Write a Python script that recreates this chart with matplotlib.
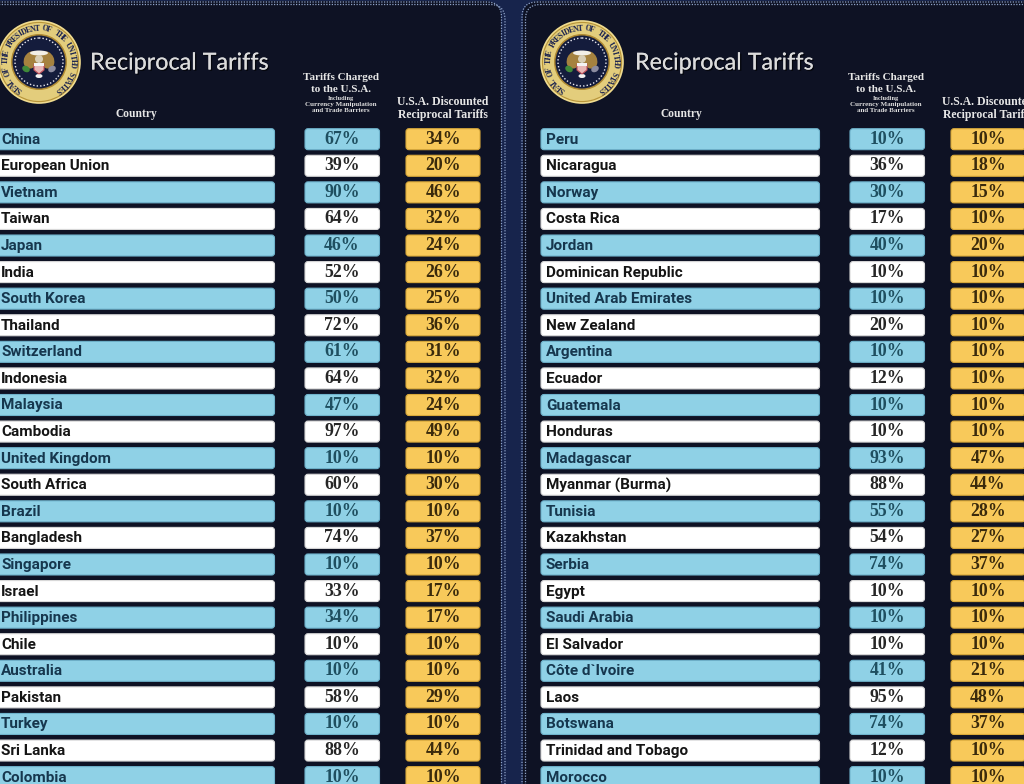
import numpy as np
import matplotlib
matplotlib.use("Agg")
import matplotlib.pyplot as plt
from matplotlib.patches import FancyBboxPatch, Circle, Ellipse, Polygon, Rectangle
import matplotlib.patheffects as pe
from matplotlib import font_manager as fm

# ---------------- data ----------------
countries_left = ["China", "European Union", "Vietnam", "Taiwan", "Japan", "India",
                  "South Korea", "Thailand", "Switzerland", "Indonesia", "Malaysia",
                  "Cambodia", "United Kingdom", "South Africa", "Brazil", "Bangladesh",
                  "Singapore", "Israel", "Philippines", "Chile", "Australia", "Pakistan",
                  "Turkey", "Sri Lanka", "Colombia"]
tariffs_left = [67, 39, 90, 64, 46, 52, 50, 72, 61, 64, 47, 97, 10, 60, 10, 74, 10, 33,
                34, 10, 10, 58, 10, 88, 10]
reciprocal_left = [34, 20, 46, 32, 24, 26, 25, 36, 31, 32, 24, 49, 10, 30, 10, 37, 10,
                   17, 17, 10, 10, 29, 10, 44, 10]

countries_right = ["Peru", "Nicaragua", "Norway", "Costa Rica", "Jordan",
                   "Dominican Republic", "United Arab Emirates", "New Zealand",
                   "Argentina", "Ecuador", "Guatemala", "Honduras", "Madagascar",
                   "Myanmar (Burma)", "Tunisia", "Kazakhstan", "Serbia", "Egypt",
                   "Saudi Arabia", "El Salvador", "Côte d`Ivoire", "Laos", "Botswana",
                   "Trinidad and Tobago", "Morocco"]
tariffs_right = [10, 36, 30, 17, 40, 10, 10, 20, 10, 12, 10, 10, 93, 88, 55, 54, 74, 10,
                 10, 10, 41, 95, 74, 12, 10]
reciprocal_right = [10, 18, 15, 10, 20, 10, 10, 10, 10, 10, 10, 10, 47, 44, 28, 27, 37,
                    10, 10, 10, 21, 48, 37, 10, 10]

title_text = "Reciprocal Tariffs"
header_country = "Country"
header_tariffs = ["Tariffs Charged", "to the U.S.A."]
header_tariffs_small = ["Including", "Currency Manipulation", "and Trade Barriers"]
header_recip = ["U.S.A. Discounted", "Reciprocal Tariffs"]
seal_text = "SEAL OF THE PRESIDENT OF THE UNITED STATES"

# ---------------- style ----------------
BG_GAP = "#17244c"
BG_PANEL = "#0e1224"
BLUE = "#8fd1e6"
WHITE = "#ffffff"
YELLOW = "#f8c95a"
DOT = "#8fa3c8"

names = {f.name for f in fm.fontManager.ttflist}
CFONT = "Roboto" if "Roboto" in names else "DejaVu Sans"
TFONT = "Lato" if "Lato" in names else "DejaVu Sans"
SFONT = "Liberation Serif" if "Liberation Serif" in names else "DejaVu Serif"

W, H = 1024, 784
fig = plt.figure(figsize=(W / 100, H / 100), dpi=100)
fig.patch.set_facecolor(BG_GAP)
ax = fig.add_axes([0, 0, 1, 1])
ax.set_xlim(0, W)
ax.set_ylim(H, 0)
ax.axis("off")
ax.set_facecolor(BG_GAP)

ROW0 = 139.2
PITCH = 26.58
BAR_H = 21.0

panels = [
    dict(off=0, countries=countries_left, tariffs=tariffs_left, recip=reciprocal_left),
    dict(off=545, countries=countries_right, tariffs=tariffs_right, recip=reciprocal_right),
]

# panel backgrounds
ax.add_patch(FancyBboxPatch((-40, 1), 541, 900, boxstyle="round,pad=0,rounding_size=16",
                            fc=BG_PANEL, ec="none", zorder=0))
ax.add_patch(FancyBboxPatch((523, 1), 560, 900, boxstyle="round,pad=0,rounding_size=16",
                            fc=BG_PANEL, ec="none", zorder=0))
# dotted double borders
for (x0, y0, w) in [(-40, 2, 541.5), (-40, 4.5, 545), (522, 2, 560), (525.5, 4.5, 560)]:
    ax.add_patch(FancyBboxPatch((x0, y0), w, 900,
                                boxstyle="round,pad=0,rounding_size=15",
                                fc="none", ec=DOT, lw=0.9, ls=(0, (1, 1.2)), zorder=1))


def draw_seal(cx, cy, r=41):
    ax.add_patch(Circle((cx, cy), r, fc="#b8953a", ec="#f0dc90", lw=1.2, zorder=3))
    ax.add_patch(Circle((cx, cy), r - 2, fc="#e3cd7c", ec="none", zorder=3))
    ax.add_patch(Circle((cx, cy), r - 13, fc="#b08a32", ec="none", zorder=3))
    ax.add_patch(Circle((cx, cy), r - 14.5, fc="#141c3c", ec="none", zorder=3))
    ax.add_patch(Circle((cx, cy), r - 17, fc="none", ec="#e8e8f0", lw=1.0,
                        ls=(0, (1, 1.5)), zorder=4))
    # eagle body / wings
    ax.add_patch(Ellipse((cx - 8, cy - 2), 14, 18, angle=25, fc="#a5823f", ec="none", zorder=4))
    ax.add_patch(Ellipse((cx + 8, cy - 2), 14, 18, angle=-25, fc="#a5823f", ec="none", zorder=4))
    ax.add_patch(Ellipse((cx, cy - 9), 18, 5, fc="#f2efe6", ec="none", zorder=4))
    ax.add_patch(Ellipse((cx, cy - 3), 8, 8, fc="#d9cfb5", ec="none", zorder=5))
    # shield
    ax.add_patch(Polygon([(cx - 5, cy + 2), (cx + 5, cy + 2), (cx + 5, cy + 8), (cx, cy + 12),
                          (cx - 5, cy + 8)], closed=True, fc="#e8b7b7", ec="#c0505a",
                         lw=0.8, zorder=5))
    ax.add_patch(Rectangle((cx - 5, cy + 1), 10, 2.5, fc="#f4f4f4", ec="none", zorder=6))
    # olive branch and arrows
    ax.add_patch(Ellipse((cx - 13, cy + 7), 8, 6, angle=30, fc="#3f8a3a", ec="none", zorder=4))
    ax.add_patch(Ellipse((cx + 13, cy + 7), 8, 6, angle=-30, fc="#8c8ca0", ec="none", zorder=4))
    ax.add_patch(Ellipse((cx, cy + 14), 7, 4, fc="#f2f2f2", ec="none", zorder=4))
    # ring text
    n = len(seal_text)
    angs = np.linspace(235, -55, n)
    rt = r - 7.5
    for ch, a in zip(seal_text, angs):
        th = np.deg2rad(a)
        ax.text(cx + rt * np.cos(th), cy - rt * np.sin(th), ch, rotation=a - 90,
                ha="center", va="center", fontsize=5.6, fontweight="bold",
                family=SFONT, color="#1c2450", zorder=6)


for p in panels:
    off = p["off"]
    draw_seal(39 + off * (543 / 545), 62)
    ax.text(90 + off, 63, title_text, fontsize=16.8, family=TFONT, color="#dcdcdc",
            ha="left", va="center", zorder=5,
            path_effects=[pe.withSimplePatchShadow(offset=(1, -1), shadow_rgbFace="#000000",
                                                   alpha=0.6), pe.Normal()])
    ax.text(136 + off, 114, header_country, fontsize=8.3, family=SFONT, fontweight="bold",
            color="#e6e6e6", ha="center", va="center", zorder=5)
    ax.text(341 + off, 77, header_tariffs[0], fontsize=8.0, family=SFONT, fontweight="bold",
            color="#e6e6e6", ha="center", va="center", zorder=5)
    ax.text(341 + off, 89, header_tariffs[1], fontsize=8.0, family=SFONT, fontweight="bold",
            color="#e6e6e6", ha="center", va="center", zorder=5)
    for k, (t, fs) in enumerate(zip(header_tariffs_small, [4.6, 5.0, 5.0])):
        ax.text(341 + off, 98.5 + k * 6, t, fontsize=fs, family=SFONT, fontweight="bold",
                color="#dcdcdc", ha="center", va="center", zorder=5)
    ax.text(443 + off, 102, header_recip[0], fontsize=8.5, family=SFONT, fontweight="bold",
            color="#e6e6e6", ha="center", va="center", zorder=5)
    ax.text(443 + off, 114.5, header_recip[1], fontsize=8.5, family=SFONT, fontweight="bold",
            color="#e6e6e6", ha="center", va="center", zorder=5)

    for i, (c, t, r) in enumerate(zip(p["countries"], p["tariffs"], p["recip"])):
        yc = ROW0 + i * PITCH
        y0 = yc - BAR_H / 2
        blue = (i % 2 == 0)
        fc = BLUE if blue else WHITE
        ec = "#6fb3cc" if blue else "#d8d8d8"
        ax.add_patch(FancyBboxPatch((-4 + off, y0), 278.5, BAR_H,
                                    boxstyle="round,pad=0,rounding_size=3",
                                    fc=fc, ec=ec, lw=0.8, zorder=3))
        ax.add_patch(FancyBboxPatch((305 + off, y0), 74.5, BAR_H,
                                    boxstyle="round,pad=0,rounding_size=3",
                                    fc=fc, ec=ec, lw=0.8, zorder=3))
        ax.add_patch(FancyBboxPatch((406 + off, y0), 74, BAR_H,
                                    boxstyle="round,pad=0,rounding_size=3",
                                    fc=YELLOW, ec="#d9a93a", lw=0.8, zorder=3))
        ax.text(1 + off, yc + 0.5, c, fontsize=11, family=CFONT, fontweight="bold",
                color="#16374e" if blue else "#151515", ha="left", va="center", zorder=4)
        ax.text(342 + off, yc, f"{t}%", fontsize=12.8, family=SFONT, fontweight="bold",
                color="#1f4f60" if blue else "#262626", ha="center", va="center", zorder=4)
        ax.text(443 + off, yc, f"{r}%", fontsize=12.8, family=SFONT, fontweight="bold",
                color="#3a2a0c", ha="center", va="center", zorder=4)

fig.savefig("out.png", dpi=100, facecolor=fig.get_facecolor())
